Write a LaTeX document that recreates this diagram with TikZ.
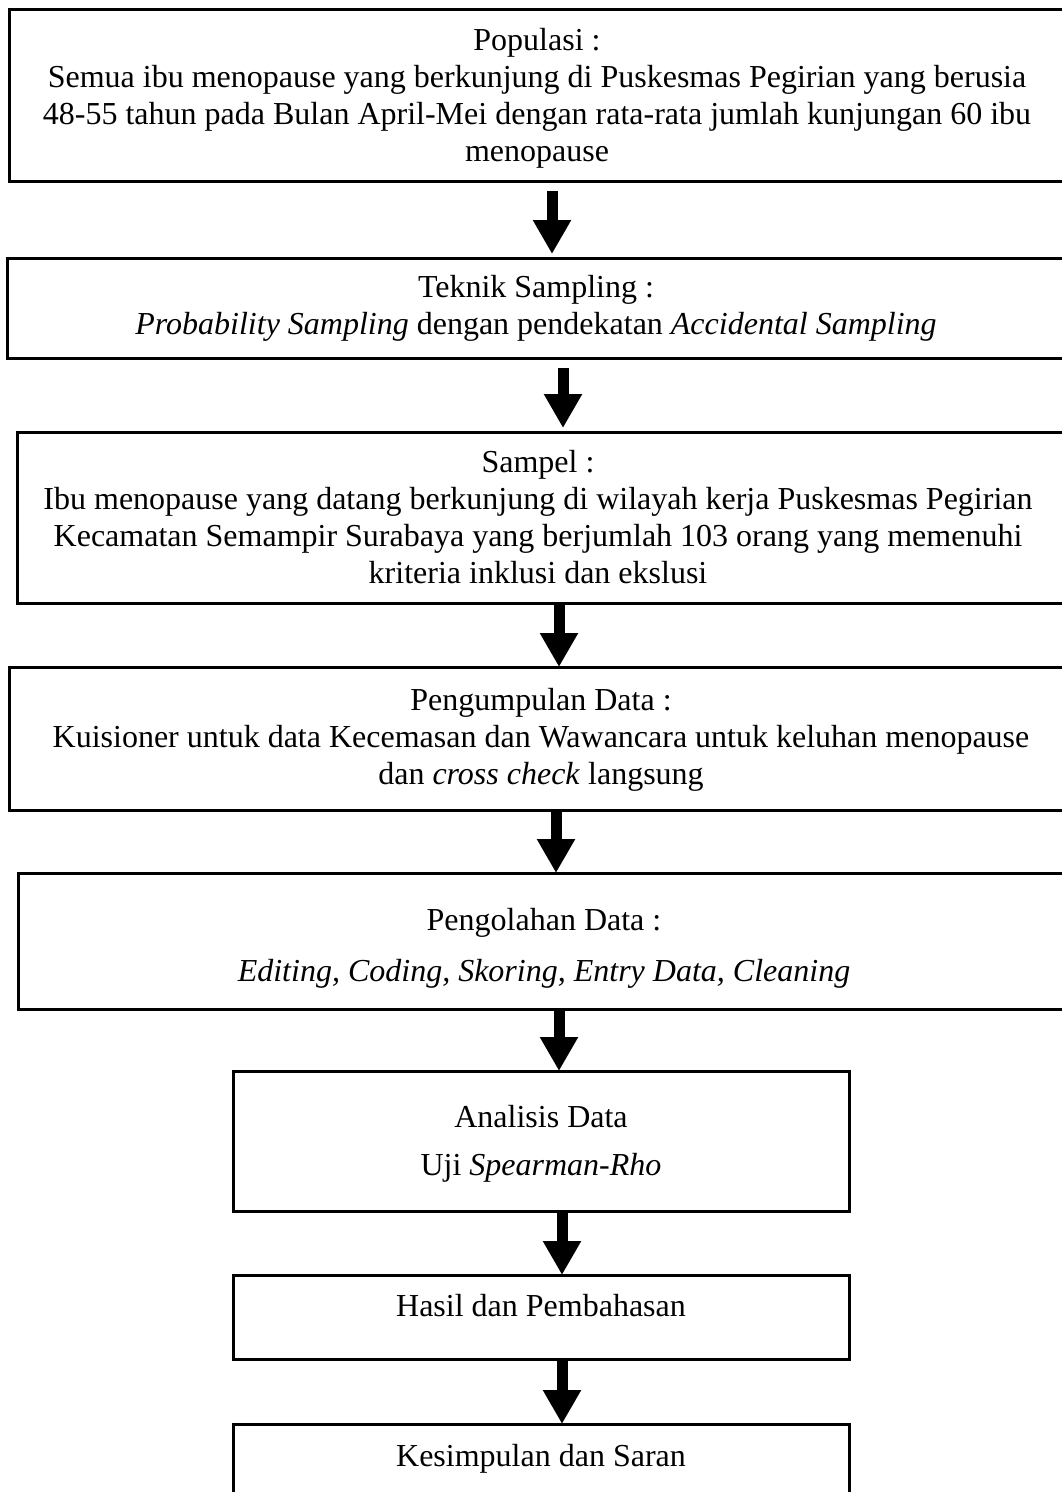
\documentclass[tikz,border=0pt]{standalone}
\usepackage{fontspec}
\setmainfont{Liberation Serif}
\usetikzlibrary{arrows.meta}
\begin{document}
\begin{tikzpicture}[x=1pt,y=-1pt,
  box/.style={draw=black,line width=3pt,inner sep=0pt,outer sep=0pt},
  txt/.style={inner sep=0pt,anchor=base,font=\fontsize{32}{37}\selectfont},
  flow/.style={line width=11pt,-{Triangle[width=36pt,length=34pt]}},
  gapflow/.style={flow,shorten <=10pt,shorten >=4pt}]
\useasboundingbox (0,0) rectangle (1062,1492);
\clip (0,0) rectangle (1062,1492);
\fill[white] (0,0) rectangle (1062,1492);

% boxes of the flow
\node[box,minimum width=1059pt,minimum height=172pt] (b1) at (538.5,95) {};
\node[box,minimum width=1061pt,minimum height=100pt] (b2) at (537.5,308) {};
\node[box,minimum width=1051pt,minimum height=171pt] (b3) at (542.5,517.5) {};
\node[box,minimum width=1059pt,minimum height=143pt] (b4) at (538.5,738.5) {};
\node[box,minimum width=1050pt,minimum height=136pt] (b5) at (543,941) {};
\node[box,minimum width=616pt,minimum height=140pt] (b6) at (541,1141) {};
\node[box,minimum width=616pt,minimum height=84pt] (b7) at (541,1317) {};
\node[box,minimum width=616pt,minimum height=136pt] (b8) at (541,1492) {};

% texts
\node[txt] (t1a) at (537,50) {Populasi :};
\node[txt] (t1b) at (537,87) {Semua ibu menopause yang berkunjung di Puskesmas Pegirian yang berusia};
\node[txt] (t1c) at (537,124) {48-55 tahun pada Bulan April-Mei dengan rata-rata jumlah kunjungan 60 ibu};
\node[txt] (t1d) at (537,161) {menopause};

\node[txt] (t2a) at (536,297) {Teknik Sampling :};
\node[txt] (t2b) at (536,334) {\textit{Probability Sampling} dengan pendekatan \textit{Accidental Sampling}};

\node[txt] (t3a) at (538,472) {Sampel :};
\node[txt] (t3b) at (538,509) {Ibu menopause yang datang berkunjung di wilayah kerja Puskesmas Pegirian};
\node[txt] (t3c) at (538,546) {Kecamatan Semampir Surabaya yang berjumlah 103 orang yang memenuhi};
\node[txt] (t3d) at (538,583) {kriteria inklusi dan ekslusi};

\node[txt] (t4a) at (541,710) {Pengumpulan Data :};
\node[txt] (t4b) at (541,747) {Kuisioner untuk data Kecemasan dan Wawancara untuk keluhan menopause};
\node[txt] (t4c) at (541,784) {dan \textit{cross check} langsung};

\node[txt] (t5a) at (544,930) {Pengolahan Data :};
\node[txt] (t5b) at (544,981) {\textit{Editing, Coding, Skoring, Entry Data, Cleaning}};

\node[txt] (t6a) at (541,1127) {Analisis Data};
\node[txt] (t6b) at (541,1175) {Uji \textit{Spearman-Rho}};

\node[txt] (t7) at (541,1316) {Hasil dan Pembahasan};
\node[txt] (t8) at (541,1466) {Kesimpulan dan Saran};

% arrow columns
\coordinate (x1) at (552,0);
\coordinate (x2) at (563,0);
\coordinate (x3) at (559,0);
\coordinate (x4) at (556,0);
\coordinate (x5) at (559,0);
\coordinate (x6) at (562,0);
\coordinate (x7) at (562,0);

\draw[gapflow] (b1.south -| x1) -- (b2.north -| x1);
\draw[gapflow] (b2.south -| x2) -- (b3.north -| x2);
\draw[flow] (b3.south -| x3) -- (b4.north -| x3);
\draw[flow] (b4.south -| x4) -- (b5.north -| x4);
\draw[flow] (b5.south -| x5) -- (b6.north -| x5);
\draw[flow] (b6.south -| x6) -- (b7.north -| x6);
\draw[flow] (b7.south -| x7) -- (b8.north -| x7);
\end{tikzpicture}
\end{document}
